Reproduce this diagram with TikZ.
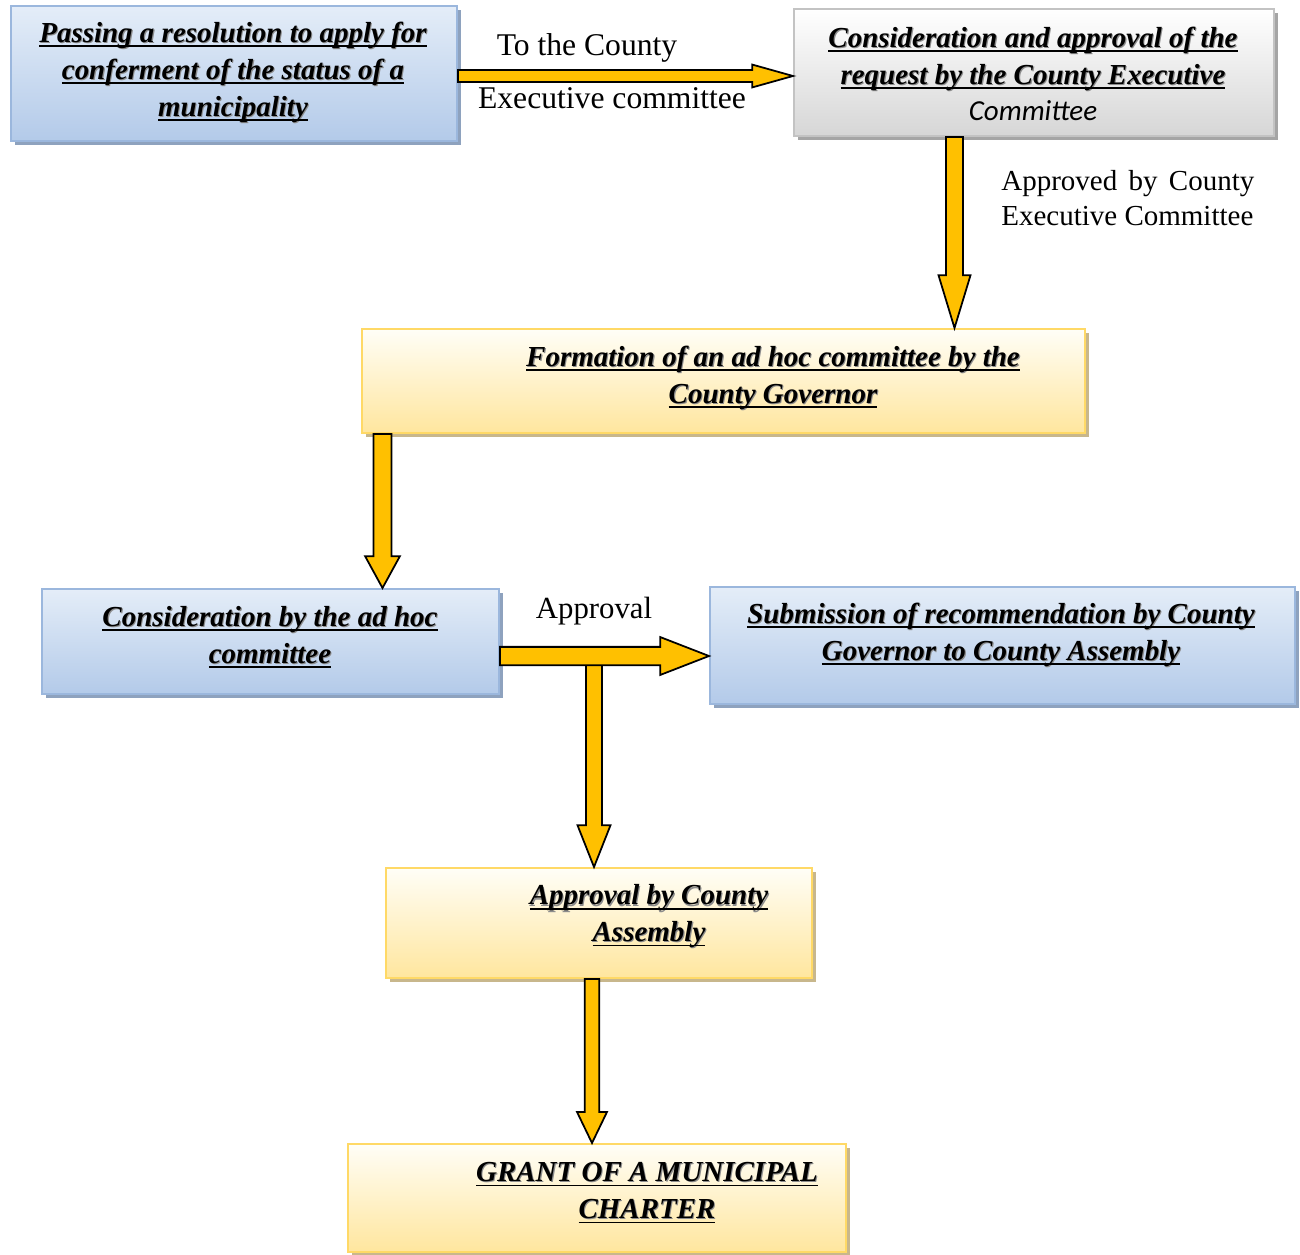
\documentclass[tikz,border=0pt]{standalone}
\usepackage{fontspec}
\setmainfont{Liberation Serif}
\newfontfamily\calfont{Carlito}
\usetikzlibrary{calc,shadows}

\definecolor{arrowyellow}{HTML}{FFC000}
\definecolor{blueborder}{HTML}{9BB7DD}
\definecolor{bluetop}{HTML}{E4EDF8}
\definecolor{bluebot}{HTML}{B3CAE9}
\definecolor{blueshadow}{HTML}{8EA2BE}
\definecolor{graybot}{HTML}{D6D6D6}
\definecolor{grayborder}{HTML}{C3C3C3}
\definecolor{grayshadow}{HTML}{A5A5A5}
\definecolor{yellowtop}{HTML}{FFFEF7}
\definecolor{yellowbot}{HTML}{FFE69E}
\definecolor{yellowborder}{HTML}{FFD966}
\definecolor{yellowshadow}{HTML}{C8B78C}
\definecolor{textshadow}{HTML}{8C8C8C}

\newcommand\pxu{0.02cm}
\newcommand\ulbox[1]{\setbox0=\hbox{#1}%
  \rlap{\raisebox{-0.6pt}{\kern0.6pt\textcolor{textshadow}{\copy0}}}%
  \rlap{\rule[-2.6pt]{\wd0}{1pt}}\box0}

% fat arrows: start, end, half shaft, half head, head length
\newcommand\fatdown[5]{%
  \draw[fatarrow] let \p1=(#1), \p2=(#2) in
    (\x1-#3,\y1) -- (\x1-#3,\y2+#5) -- (\x1-#4,\y2+#5) -- (\x1,\y2)
    -- (\x1+#4,\y2+#5) -- (\x1+#3,\y2+#5) -- (\x1+#3,\y1) -- cycle;}
\newcommand\fatright[5]{%
  \draw[fatarrow] let \p1=(#1), \p2=(#2) in
    (\x1,\y1+#3) -- (\x2-#5,\y1+#3) -- (\x2-#5,\y1+#4) -- (\x2,\y1)
    -- (\x2-#5,\y1-#4) -- (\x2-#5,\y1-#3) -- (\x1,\y1-#3) -- cycle;}

\tikzset{
  box/.style={rectangle, line width=1.1pt, anchor=north west, inner sep=0pt},
  bluebox/.style={box, draw=blueborder, top color=bluetop, bottom color=bluebot,
    general shadow={fill=blueshadow, shadow xshift=2.3pt, shadow yshift=-2.3pt}},
  graybox/.style={box, draw=grayborder, top color=white, bottom color=graybot,
    general shadow={fill=grayshadow, shadow xshift=2.3pt, shadow yshift=-2.3pt}},
  yellowbox/.style={box, draw=yellowborder, top color=yellowtop, bottom color=yellowbot,
    general shadow={fill=yellowshadow, shadow xshift=2.3pt, shadow yshift=-2.3pt}},
  fatarrow/.style={draw=black, fill=arrowyellow, line width=1pt, line join=miter},
  boxtext/.style={font=\fontsize{16.5}{21}\selectfont\bfseries\itshape, align=center},
  plaintext/.style={font=\fontsize{18}{21}\selectfont, anchor=base, inner sep=0pt},
}

\begin{document}
\begin{tikzpicture}[x=\pxu, y=-\pxu]

    \useasboundingbox (0,0) rectangle (1300,1254);

    \node[bluebox, minimum width=446*\pxu, minimum height=135*\pxu] (pass) at (10,5) {};
    \node[graybox, minimum width=480*\pxu, minimum height=127*\pxu] (exec) at (793,8) {};
    \node[yellowbox, minimum width=723*\pxu, minimum height=104*\pxu] (adhoc) at (361,328) {};
    \node[bluebox, minimum width=457*\pxu, minimum height=105*\pxu] (consider) at (41,588) {};
    \node[bluebox, minimum width=585*\pxu, minimum height=117*\pxu] (submit) at (709,586) {};
    \node[yellowbox, minimum width=426*\pxu, minimum height=110*\pxu] (assembly) at (385,867) {};
    \node[yellowbox, minimum width=498*\pxu, minimum height=108*\pxu] (charter) at (347,1143) {};

    \node[boxtext] (pass-txt) at (233,73) {\ulbox{Passing a resolution to apply for}\\
        \ulbox{conferment of the status of a}\\ \ulbox{municipality}};
    \node[boxtext] (exec-txt) at (1033,74) {\ulbox{Consideration and approval of the}\\
        \ulbox{request by the County Executive}\\ {\calfont\mdseries Committee}};
    \node[boxtext] (adhoc-txt) at (773,378) {\ulbox{Formation of an ad hoc committee by the}\\
        \ulbox{County Governor}};
    \node[boxtext] (consider-txt) at (270,637) {\ulbox{Consideration by the ad hoc}\\
        \ulbox{committee}};
    \node[boxtext] (submit-txt) at (1001,635) {\ulbox{Submission of recommendation by County}\\
        \ulbox{Governor to County Assembly}};
    \node[boxtext] (assembly-txt) at (649,917) {\ulbox{Approval by County}\\ \ulbox{Assembly}};
    \node[boxtext] (charter-txt) at (647,1193) {\ulbox{GRANT OF A MUNICIPAL}\\ \ulbox{CHARTER}};

    \node[plaintext] (to-county) at (587,55) {To the County};
    \node[plaintext] (exec-comm) at (612,108) {Executive committee};
    \node[plaintext, font=\fontsize{16.5}{20}\selectfont, anchor=base west] (approved) at (1001,190)
        {\makebox[144pt][s]{Approved by County}};
    \node[plaintext, font=\fontsize{16.5}{20}\selectfont, anchor=base west] (approved-exec) at (1001,225)
        {Executive Committee};
    \node[plaintext, font=\fontsize{17.5}{21}\selectfont] (approval) at (594,618) {Approval};

    \coordinate (split) at (594,656);

    \fatright{pass.east |- 0,76}{exec.west}{3.4pt}{6.5pt}{23.2pt}
    \fatdown{exec.south -| 954.5,0}{adhoc.north}{4.8pt}{9.1pt}{30pt}
    \fatdown{adhoc.south -| 382.5,0}{consider.north}{5.1pt}{9.9pt}{18.1pt}
    \fatdown{split}{assembly.north}{4.5pt}{9.4pt}{23.8pt}
    \fatright{consider.east |- split}{submit.west}{5.2pt}{10.8pt}{27.8pt}
    \fatdown{assembly.south -| 592,0}{charter.north}{4.1pt}{8.5pt}{17.6pt}

\end{tikzpicture}
\end{document}
